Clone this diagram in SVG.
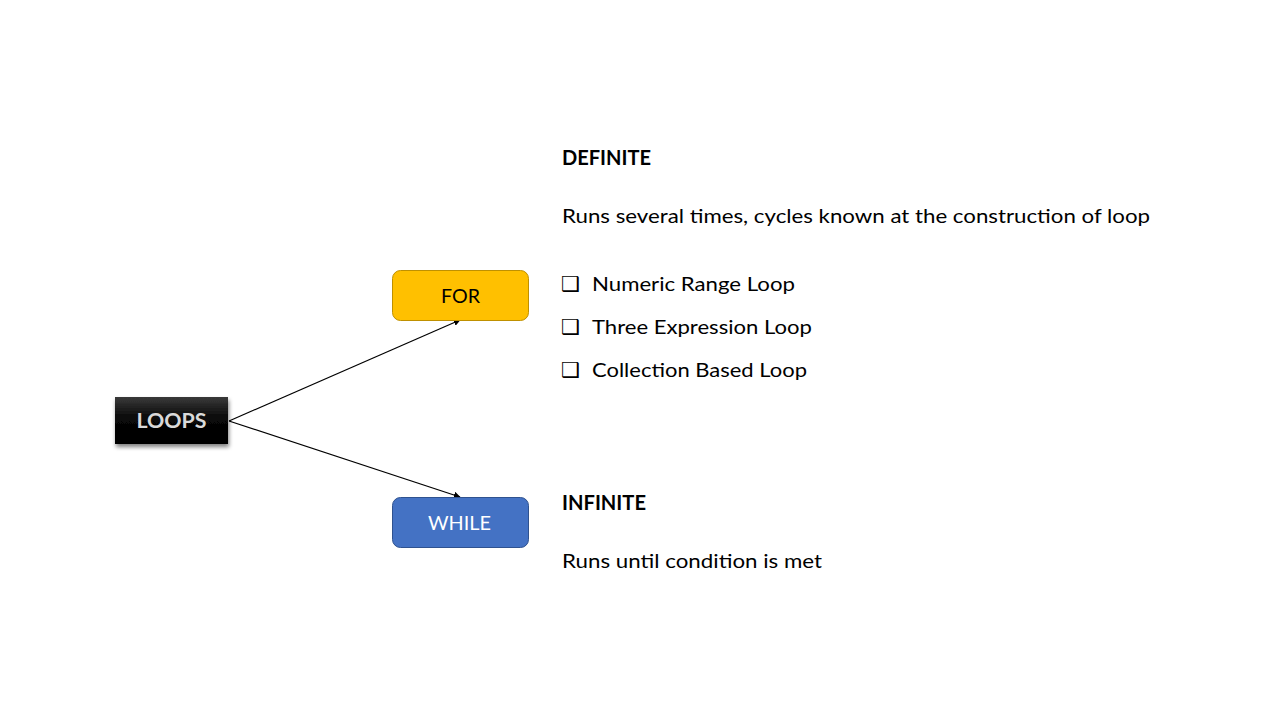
<svg xmlns="http://www.w3.org/2000/svg" width="1280" height="720" viewBox="0 0 1280 720">
  <defs>
    <linearGradient id="gBlack" x1="0" y1="0" x2="0" y2="1">
      <stop offset="0" stop-color="#3a3a3a"/>
      <stop offset="0.45" stop-color="#080808"/>
      <stop offset="1" stop-color="#000000"/>
    </linearGradient>
    <filter id="shadow" x="-20%" y="-20%" width="140%" height="160%">
      <feGaussianBlur in="SourceAlpha" stdDeviation="2"/>
      <feOffset dx="1" dy="3"/>
      <feComponentTransfer><feFuncA type="linear" slope="0.5"/></feComponentTransfer>
      <feMerge><feMergeNode/><feMergeNode in="SourceGraphic"/></feMerge>
    </filter>
    <marker id="arrow" viewBox="0 0 10 10" refX="9" refY="5" markerWidth="7" markerHeight="7" markerUnits="userSpaceOnUse" orient="auto">
      <path d="M0,0 L10,5 L0,10 z" fill="#000"/>
    </marker>
  </defs>
  <style>
    text { font-family: Lato, "Open Sans", "Liberation Sans", sans-serif; font-size: 20px; fill: #000; }
    .b { font-weight: bold; }
    .lbl { text-anchor: middle; }
    .conn { stroke: #000; stroke-width: 1.2; fill: none; marker-end: url(#arrow); }
    .box { font-family: "DejaVu Sans", sans-serif; font-size: 21px; font-weight: bold; }
  </style>
  <rect width="1280" height="720" fill="#fff"/>

  <g id="connectors">
    <line class="conn" x1="229" y1="421" x2="460" y2="320"/>
    <line class="conn" x1="229" y1="421" x2="460" y2="497"/>
  </g>

  <g id="loops">
    <rect x="115" y="397" width="113" height="47" fill="url(#gBlack)" filter="url(#shadow)"/>
    <text class="lbl b" x="171.5" y="428" textLength="70" lengthAdjust="spacingAndGlyphs" style="fill:#d9d9d9">LOOPS</text>
  </g>

  <g id="for">
    <rect x="392.5" y="270.5" width="136" height="50" rx="8" fill="#FFC000" stroke="#BF9000" stroke-width="1"/>
    <text class="lbl" x="460.5" y="303" textLength="39" lengthAdjust="spacingAndGlyphs">FOR</text>
  </g>

  <g id="while">
    <rect x="392.5" y="497.5" width="136" height="50" rx="8" fill="#4472C4" stroke="#2F528F" stroke-width="1"/>
    <text class="lbl" x="459.5" y="530" textLength="63" lengthAdjust="spacingAndGlyphs" style="fill:#fff">WHILE</text>
  </g>

  <g id="definite">
    <text class="b" x="562" y="165" textLength="89" lengthAdjust="spacingAndGlyphs">DEFINITE</text>
    <text x="562" y="223" textLength="588" lengthAdjust="spacingAndGlyphs">Runs several times, cycles known at the construction of loop</text>
    <text class="box" x="561" y="291">❑</text>
    <text x="592" y="291" textLength="203" lengthAdjust="spacingAndGlyphs">Numeric Range Loop</text>
    <text class="box" x="561" y="334">❑</text>
    <text x="592" y="334" textLength="220" lengthAdjust="spacingAndGlyphs">Three Expression Loop</text>
    <text class="box" x="561" y="377">❑</text>
    <text x="592" y="377" textLength="215" lengthAdjust="spacingAndGlyphs">Collection Based Loop</text>
  </g>

  <g id="infinite">
    <text class="b" x="562" y="510" textLength="84" lengthAdjust="spacingAndGlyphs">INFINITE</text>
    <text x="562" y="568" textLength="260" lengthAdjust="spacingAndGlyphs">Runs until condition is met</text>
  </g>
</svg>
